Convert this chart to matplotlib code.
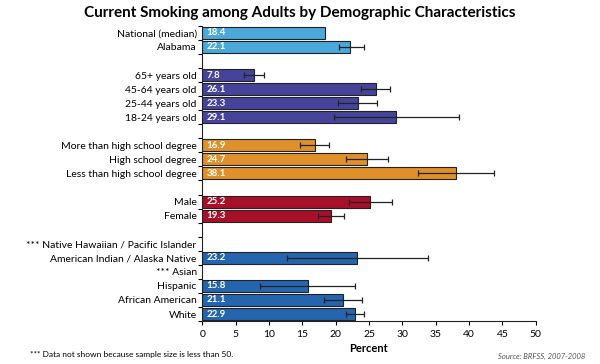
import numpy as np
import matplotlib
matplotlib.use("Agg")
import matplotlib.pyplot as plt

plt.rcParams['font.family'] = ['Lato', 'DejaVu Sans']

labels = ['National (median)', 'Alabama', '',
          '65+ years old', '45-64 years old', '25-44 years old', '18-24 years old', '',
          'More than high school degree', 'High school degree', 'Less than high school degree', '',
          'Male', 'Female', '',
          '*** Native Hawaiian / Pacific Islander', 'American Indian / Alaska Native', '*** Asian',
          'Hispanic', 'African American', 'White']
values = [18.4, 22.1, None,
          7.8, 26.1, 23.3, 29.1, None,
          16.9, 24.7, 38.1, None,
          25.2, 19.3, None,
          None, 23.2, None, 15.8, 21.1, 22.9]
ci_low = [None, 20.5, None,
          6.3, 23.8, 20.3, 19.7, None,
          14.7, 21.6, 32.4, None,
          22.0, 17.3, None,
          None, 12.7, None, 8.6, 18.3, 21.6]
ci_high = [None, 24.2, None,
           9.3, 28.2, 26.2, 38.5, None,
           19.0, 27.8, 43.7, None,
           28.4, 21.3, None,
           None, 33.9, None, 22.9, 24.0, 24.3]
groups = ['state', 'state', None,
          'age', 'age', 'age', 'age', None,
          'edu', 'edu', 'edu', None,
          'sex', 'sex', None,
          'race', 'race', 'race', 'race', 'race', 'race']
colors = {'state': '#4aa8da', 'age': '#45449a', 'edu': '#e0902a',
          'sex': '#a8102a', 'race': '#2565ae'}

fig = plt.figure(figsize=(6, 3.64), dpi=100)
ax = fig.add_axes([0.337, 0.118, 0.556, 0.811])

for i, v in enumerate(values):
    if v is None:
        continue
    ax.barh(i, v, height=0.85, color=colors[groups[i]], edgecolor='#222222', linewidth=0.8)
    ax.text(0.6, i, f'{v:.1f}', color='white', fontsize=7, fontweight='bold',
            va='center', ha='left')
    if ci_low[i] is not None:
        ax.errorbar(v, i, xerr=[[v - ci_low[i]], [ci_high[i] - v]], fmt='none',
                    ecolor='#222222', elinewidth=0.9, capsize=2.2, capthick=0.9)

ax.set_ylim(20.5, -0.5)
ax.set_xlim(0, 50)
ax.set_xticks(np.arange(0, 51, 5))
ax.set_yticks(range(len(labels)))
ax.set_yticklabels(labels, fontsize=7.5)
ax.tick_params(axis='y', length=0, pad=4)
ax.set_yticks(np.arange(-0.5, 20.6, 1), minor=True)
ax.tick_params(axis='y', which='minor', length=3, direction='out', width=0.8)
ax.tick_params(axis='x', length=3, direction='out', width=0.8, labelsize=7.5)
for s in ['top', 'right']:
    ax.spines[s].set_visible(False)
ax.spines['left'].set_color('#222222')
ax.spines['bottom'].set_color('#222222')
ax.set_xlabel('Percent', fontsize=8, fontweight='bold', labelpad=3)

fig.text(0.5, 0.965, 'Current Smoking among Adults by Demographic Characteristics',
         ha='center', va='center', fontsize=11, fontweight='bold')
fig.text(0.05, 0.025, '*** Data not shown because sample size is less than 50.',
         fontsize=6, va='center')
fig.text(0.975, 0.022, 'Source: BRFSS, 2007-2008', fontsize=5.5, style='italic',
         color='#555555', ha='right', va='center')

fig.savefig('out.png', dpi=100)
